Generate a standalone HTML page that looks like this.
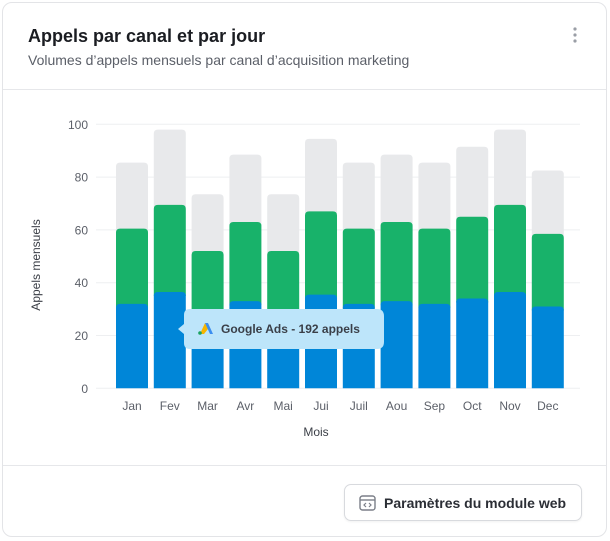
<!DOCTYPE html>
<html><head><meta charset="utf-8"><style>
html,body{margin:0;padding:0;background:#fff;width:610px;height:541px;overflow:hidden;font-family:"Liberation Sans",sans-serif}
.card{position:absolute;left:2px;top:2px;width:603px;height:533px;border:1px solid #e3e4e7;border-radius:10px;background:#fff}
.title{position:absolute;left:25px;top:23px;font-size:18px;font-weight:bold;color:#1b1d22}
.sub{position:absolute;left:25px;top:49px;font-size:14px;color:#5b5f68}
.kebab{position:absolute;left:568px;top:22px;width:10px;height:20px}
.div1{position:absolute;left:0;right:0;top:86px;border-top:1px solid #e6e7ea}
.div2{position:absolute;left:0;right:0;top:462px;border-top:1px solid #e6e7ea}
.btn{position:absolute;left:341px;top:481px;width:238px;height:37px;border:1px solid #d8dade;border-radius:7px;box-shadow:0 1px 2px rgba(0,0,0,.06);font-size:14px;font-weight:bold;color:#2b2e35;box-sizing:border-box}
.btn span{position:absolute;left:39px;top:10px}
svg.chart{position:absolute;left:0;top:0}
</style></head><body>
<div class="card">
<div class="title">Appels par canal et par jour</div>
<div class="sub">Volumes d’appels mensuels par canal d’acquisition marketing</div>
<svg class="kebab" viewBox="0 0 10 20"><circle cx="4" cy="4" r="1.6" fill="#9a9ea6"/><circle cx="4" cy="10" r="1.6" fill="#9a9ea6"/><circle cx="4" cy="16" r="1.6" fill="#9a9ea6"/></svg>
<div class="div1"></div>
<div class="div2"></div>
<div class="btn">
<svg style="position:absolute;left:14px;top:10px" width="17" height="16" viewBox="0 0 17 16"><rect x="1" y="1" width="15" height="14" rx="2.5" fill="none" stroke="#7b7f88" stroke-width="1.4"/><line x1="1" y1="5" x2="16" y2="5" stroke="#7b7f88" stroke-width="1.4"/><path d="M7 8l-2 2 2 2M10 8l2 2-2 2" fill="none" stroke="#7b7f88" stroke-width="1.2"/></svg>
<span>Paramètres du module web</span></div>
</div>
<svg class="chart" id="chart" width="610" height="541"></svg>
<script>
const months=["Jan","Fev","Mar","Avr","Mai","Jui","Juil","Aou","Sep","Oct","Nov","Dec"];
const googleAds=[32,36.5,30,33,30,35.5,32,33,32,34,36.5,31];
const secondChannel=[28.5,33,22,30,22,31.5,28.5,30,28.5,31,33,27.5];
const otherChannel=[25,28.5,21.5,25.5,21.5,27.5,25,25.5,25,26.5,28.5,24];
const yTicks=[0,20,40,60,80,100];
const NS="http://www.w3.org/2000/svg";
const svg=document.getElementById('chart');
const y0=388.3,yk=2.64;
function yS(v){return y0-v*yk;}
function xC(i){return 132+37.8*i;}
const bw=32;
function mk(tag,attrs){const e=document.createElementNS(NS,tag);for(const k in attrs)e.setAttribute(k,attrs[k]);svg.appendChild(e);return e;}
yTicks.forEach(t=>{
 const l=mk('line',{x1:96,x2:580,y1:yS(t),y2:yS(t),stroke:'#eeeff1','stroke-width':1});
 
 
 const tx=mk('text',{x:88,y:yS(t)+4.5,'text-anchor':'end','font-size':12,fill:'#5b5f68'});
 tx.textContent=t;
 
 
});
function seg(x,yt,yb,color,rounded,name){
 const h=yb-yt,r=rounded?4:0;
 const d=`M${x},${yb} L${x},${yt+r} Q${x},${yt} ${x+r},${yt} L${x+bw-r},${yt} Q${x+bw},${yt} ${x+bw},${yt+r} L${x+bw},${yb} Z`;
 const p=mk('path',{d:d,fill:color});
 
 
}
months.forEach((m,i)=>{
 const x=xC(i)-bw/2;
 const a=googleAds[i],b=a+secondChannel[i],c=b+otherChannel[i];
 seg(x,yS(c),yS(b)+4,'#e8e9eb',true,'bar-other-'+m.toLowerCase());
 seg(x,yS(b),yS(a)+4,'#18b26a',true,'bar-second-'+m.toLowerCase());
 seg(x,yS(a),yS(0),'#0086d8',true,'bar-google-ads-'+m.toLowerCase());
 const t=mk('text',{x:xC(i),y:410,'text-anchor':'middle','font-size':12,fill:'#5b5f68'});
 t.textContent=m;
 
 
});
const yt=mk('text',{x:0,y:0,transform:'translate(40,265) rotate(-90)','text-anchor':'middle','font-size':12,fill:'#3b3f47'});
yt.textContent='Appels mensuels';


const xt=mk('text',{x:316,y:436,'text-anchor':'middle','font-size':12,fill:'#3b3f47'});
xt.textContent='Mois';


const g=mk('g',{});


const tb=mk('path',{d:'M190,309 L377,309 Q384,309 384,316 L384,342 Q384,349 377,349 L190,349 Q184,349 184,343 L184,334 L178,329 L184,324 L184,315 Q184,309 190,309 Z',fill:'#bde5fa'});
mk('path',{d:'M200,334 L205,323 L208,329 L204,334Z',fill:'#f7b500'});
mk('path',{d:'M205,323 L208,323 L213,334 L210,334Z',fill:'#3b8ef0'});
mk('circle',{cx:200,cy:333,r:1.8,fill:'#1aa260'});
const tt=mk('text',{x:221,y:333,'font-size':12,'font-weight':'bold',fill:'#3a3f48'});
tt.textContent='Google Ads - 192 appels';


</script>
</body></html>
